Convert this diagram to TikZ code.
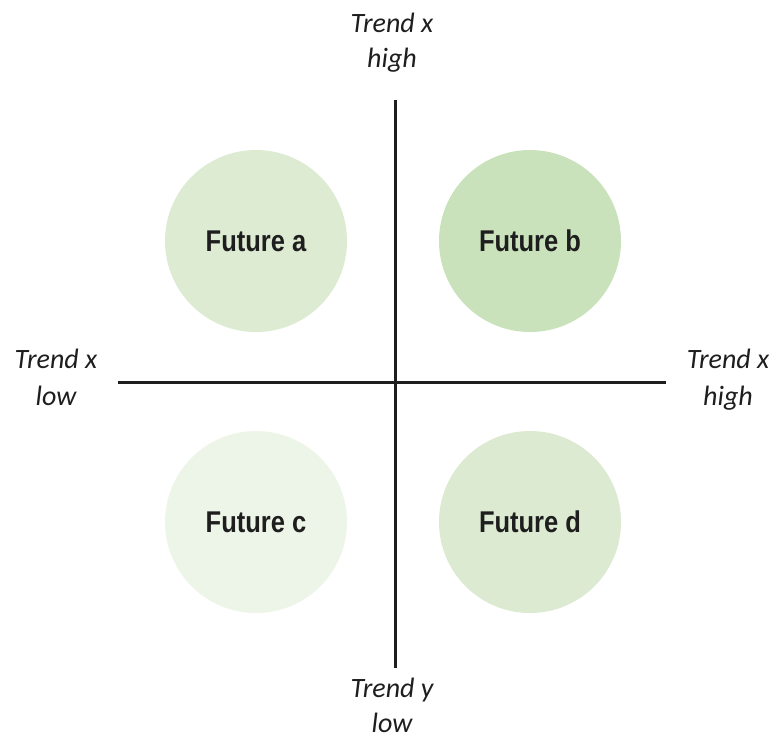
\documentclass[tikz,border=0pt]{standalone}
\usepackage{fontspec}
\setmainfont{Carlito}
\newfontfamily\futfont[FakeStretch=0.85]{Liberation Sans}
\definecolor{ca}{HTML}{DDEBD2}
\definecolor{cb}{HTML}{C9E2BB}
\definecolor{cc}{HTML}{EDF5E8}
\definecolor{cd}{HTML}{DCEAD1}
\definecolor{axis}{HTML}{1E1E1E}
\begin{document}
\begin{tikzpicture}[x=1pt,y=-1pt,
  future/.style={circle,minimum size=182pt,inner sep=0pt,font=\futfont\bfseries\fontsize{30}{34}\selectfont,text=axis},
  lbl/.style={anchor=base,inner sep=0pt,font=\itshape\fontsize{28}{34}\selectfont,text=axis},
  axisline/.style={draw=axis,line width=3pt}]
\useasboundingbox (0,0) rectangle (775,740);
\node[future,fill=ca] (fa) at (256,241) {Future a};
\node[future,fill=cb] (fb) at (530,241) {Future b};
\node[future,fill=cc] (fc) at (256,522) {Future c};
\node[future,fill=cd] (fd) at (530,522) {Future d};
\coordinate (top) at (395,100);
\coordinate (bot) at (395,668);
\coordinate (lft) at (118,382);
\coordinate (rgt) at (666,382);
\draw[axisline] (top) -- (bot);
\draw[axisline] (lft) -- (rgt);
\node[lbl] (t1) at (392,32) {Trend x};
\node[lbl] (t2) at (392,67) {high};
\node[lbl] (l1) at (56,368) {Trend x};
\node[lbl] (l2) at (56,405) {low};
\node[lbl] (r1) at (728,368) {Trend x};
\node[lbl] (r2) at (728,405) {high};
\node[lbl] (b1) at (392,697) {Trend y};
\node[lbl] (b2) at (392,732) {low};
\end{tikzpicture}
\end{document}
